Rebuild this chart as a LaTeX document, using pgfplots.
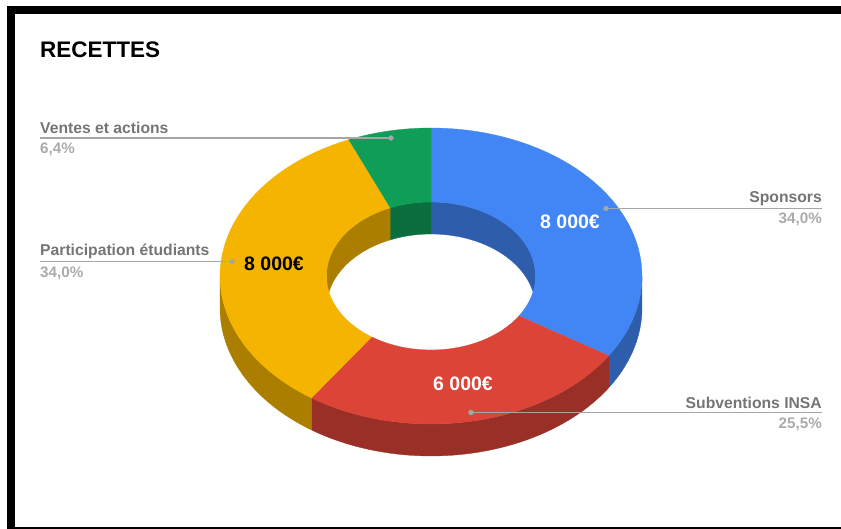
\documentclass[border=0pt]{standalone}
\usepackage{pgfplots}
\usepackage{fontspec}
\setmainfont{Liberation Sans}
\pgfplotsset{compat=1.18}
\definecolor{cB}{HTML}{4285F4}\definecolor{cR}{HTML}{DB4437}
\definecolor{cY}{HTML}{F4B400}\definecolor{cG}{HTML}{0F9D58}
\definecolor{dB}{HTML}{2E5DAB}\definecolor{dR}{HTML}{992F26}
\definecolor{dY}{HTML}{AB7E00}\definecolor{dG}{HTML}{0A6E3E}
\definecolor{ln}{HTML}{A6A6A6}\definecolor{nm}{HTML}{757575}\definecolor{pc}{HTML}{ABABAB}
% slice values
\def\vS{8000}\def\vI{6000}\def\vP{8000}\def\vV{1500}
\pgfmathsetmacro\tot{\vS/100+\vI/100+\vP/100+\vV/100}
\pgfmathsetmacro\aS{360*((\vS/100)/\tot)}
\pgfmathsetmacro\aI{\aS+360*((\vI/100)/\tot)}
\pgfmathsetmacro\aP{\aI+360*((\vP/100)/\tot)}
\def\rxo{211}\def\ryo{148}\def\rxi{104.5}\def\ryi{74}\def\dep{32}
\newcommand\arcpts[5]{\foreach \k in {0,...,48}{%
  \pgfmathsetmacro\tt{#4+(#5-#4)*\k/48}%
  \pgfmathsetmacro\px{431+#1*sin(\tt)}%
  \pgfmathsetmacro\py{276+#3-#2*cos(\tt)}%
  \xdef\pts{\pts (\px,\py)}}}
\newcommand\band[9]{\gdef\pts{}\arcpts{#2}{#3}{#4}{#8}{#9}\arcpts{#5}{#6}{#7}{#9}{#8}%
  \edef\doit{\noexpand\addplot[fill=#1,draw=#1,line width=.3pt] coordinates {\pts};}\doit}
\newcommand\lab[6]{\node[anchor=#1,font=\fontsize{15.7}{16}\selectfont\bfseries,text=nm,inner sep=0pt] at (axis cs:#2,#3) {#4};
  \node[anchor=#1,font=\fontsize{15.2}{16}\selectfont\bfseries,text=pc,inner sep=0pt] at (axis cs:#2,#5) {#6};}
\begin{document}
\begin{tikzpicture}
\begin{axis}[scale only axis,width=841pt,height=529pt,xmin=0,xmax=841,ymin=0,ymax=529,y dir=reverse,hide axis,clip=false]
% page extent
\fill[white] (axis cs:0,0) rectangle (axis cs:841,529);
% frame
\fill[black] (axis cs:7,6) rectangle (axis cs:841,14);
\fill[black] (axis cs:7,6) rectangle (axis cs:15,529);
\fill[black] (axis cs:7,527) rectangle (axis cs:841,529);
% inner wall
\band{dB}{\rxi}{\ryi}{0}{\rxi}{\ryi}{\dep}{0}{90}
\band{dG}{\rxi}{\ryi}{0}{\rxi}{\ryi}{\dep}{\aP}{360}
\band{dY}{\rxi}{\ryi}{0}{\rxi}{\ryi}{\dep}{270}{\aP}
% outer wall
\band{dB}{\rxo}{\ryo}{0}{\rxo}{\ryo}{\dep}{90}{\aS}
\band{dR}{\rxo}{\ryo}{0}{\rxo}{\ryo}{\dep}{\aS}{\aI}
\band{dY}{\rxo}{\ryo}{0}{\rxo}{\ryo}{\dep}{\aI}{270}
% top faces
\band{cB}{\rxo}{\ryo}{0}{\rxi}{\ryi}{0}{0}{\aS}
\band{cR}{\rxo}{\ryo}{0}{\rxi}{\ryi}{0}{\aS}{\aI}
\band{cY}{\rxo}{\ryo}{0}{\rxi}{\ryi}{0}{\aI}{\aP}
\band{cG}{\rxo}{\ryo}{0}{\rxi}{\ryi}{0}{\aP}{360}
% leaders
\addplot[ln,line width=1.5pt] coordinates {(606,208.5)(822,208.5)};
\addplot[ln,line width=1.5pt] coordinates {(471,412.5)(822,412.5)};
\addplot[ln,line width=1.5pt] coordinates {(40,138)(391,138)};
\addplot[ln,line width=1.5pt] coordinates {(40,261.5)(232,261.5)};
\addplot[only marks,mark=*,mark size=2.4pt,mark options={fill=ln,draw=ln}] coordinates {(606,208.5)(471,412.5)(391,138)(232,261.5)};
% text
\node[anchor=west,font=\fontsize{22.5}{26}\selectfont\bfseries,inner sep=0pt] at (axis cs:40,50) {RECETTES};
\lab{west}{40}{128}{Ventes et actions}{149}{6,4\%}
\lab{west}{40}{251}{Participation étudiants}{273}{34,0\%}
\lab{east}{822}{199}{Sponsors}{219}{34,0\%}
\lab{east}{822}{403}{Subventions INSA}{424}{25,5\%}
\node[font=\fontsize{19.5}{20}\selectfont\bfseries,text=white,inner sep=0pt] at (axis cs:570,222) {8 000€};
\node[font=\fontsize{19.5}{20}\selectfont\bfseries,text=white,inner sep=0pt] at (axis cs:463,384) {6 000€};
\node[font=\fontsize{19.5}{20}\selectfont\bfseries,text=black,inner sep=0pt] at (axis cs:274,264) {8 000€};
\end{axis}
\end{tikzpicture}
\end{document}
